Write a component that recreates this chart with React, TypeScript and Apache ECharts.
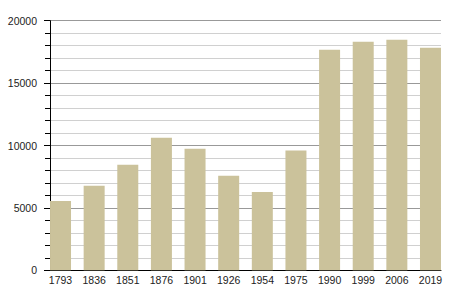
import React, { useEffect, useRef } from "react";
import * as echarts from "echarts";

const years = ["1793", "1836", "1851", "1876", "1901", "1926", "1954", "1975", "1990", "1999", "2006", "2019"];
const population = [5560, 6770, 8450, 10620, 9740, 7570, 6280, 9600, 17680, 18320, 18480, 17840];
const yMax = 20000;
const yStep = 5000;

export default function App() {
  const ref = useRef<HTMLDivElement>(null);
  useEffect(() => {
    if (!ref.current) return;
    const chart = echarts.init(ref.current, null, { renderer: "svg" });
    const font = { fontFamily: "Liberation Sans, Arial, sans-serif", fontSize: 10.5, color: "#222" };
    chart.setOption({
      animation: false,
      backgroundColor: "#fff",
      grid: [
        { left: 50, right: 9, top: 20.7, bottom: 29.7, containLabel: false },
        { left: 43.7, right: 2.7, top: 20.7, bottom: 29.7, containLabel: false },
      ],
      xAxis: [
        {
          type: "category",
          gridIndex: 0,
          data: years,
          axisLine: { show: true, lineStyle: { color: "#000", width: 1 } },
          axisTick: { show: false },
          axisLabel: { show: false },
          splitLine: { show: false },
        },
        {
          type: "category",
          gridIndex: 1,
          data: years,
          axisLine: { show: false },
          axisTick: { show: false },
          axisLabel: { ...font, margin: 4 },
          splitLine: { show: false },
        },
      ],
      yAxis: [
        {
          type: "value",
          gridIndex: 0,
          min: 0,
          max: yMax,
          interval: yStep,
          axisLine: { show: true, lineStyle: { color: "#000", width: 1 } },
          axisTick: { show: true, length: 6, lineStyle: { color: "#000" } },
          minorTick: { show: true, splitNumber: 5, length: 5, lineStyle: { color: "#000" } },
          axisLabel: { ...font, margin: 13, formatter: (v: number) => String(v) },
          splitLine: { show: true, lineStyle: { color: "#999", width: 1 } },
          minorSplitLine: { show: true, lineStyle: { color: "#d0d0d0", width: 1 } },
        },
        {
          type: "value",
          gridIndex: 1,
          min: 0,
          max: yMax,
          interval: yStep,
          show: false,
          splitLine: { show: false },
        },
      ],
      series: [
        {
          type: "bar",
          xAxisIndex: 1,
          yAxisIndex: 1,
          data: population,
          barWidth: 21,
          itemStyle: { color: "#cbc29b" },
        },
      ],
    });
    return () => chart.dispose();
  }, []);
  return <div ref={ref} style={{ width: 450, height: 300, position: "absolute", left: 0, top: 0 }} />;
}
